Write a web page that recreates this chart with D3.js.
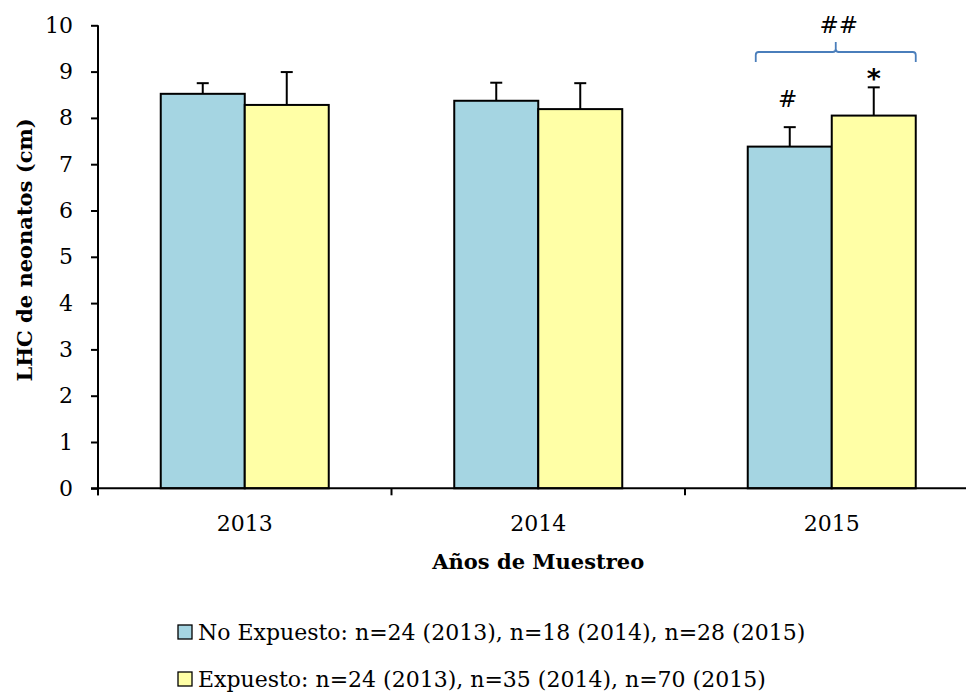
<!DOCTYPE html>
<html>
<head>
<meta charset="utf-8">
<script src="https://cdn.jsdelivr.net/npm/d3@7"></script>
<style>
  html, body { margin: 0; padding: 0; background: #fff; overflow: hidden; }
  svg { display: block; font-family: "DejaVu Serif", serif; }
</style>
</head>
<body>
<svg id="chart" width="966" height="692"></svg>
<script>
// Sampling years
const years = ["2013", "2014", "2015"];
// Mean snout-vent length (cm) and standard deviation per group
const noExpuesto = [8.52, 8.37, 7.38];
const noExpuestoErr = [0.23, 0.39, 0.42];
const expuesto = [8.28, 8.19, 8.05];
const expuestoErr = [0.71, 0.56, 0.61];
const groups = ["No Expuesto", "Expuesto"];
const legendLabels = [
  "No Expuesto: n=24 (2013), n=18 (2014), n=28 (2015)",
  "Expuesto: n=24 (2013), n=35 (2014), n=70 (2015)"
];
const yTicks = [0, 1, 2, 3, 4, 5, 6, 7, 8, 9, 10];

const colors = { "No Expuesto": "#a5d5e2", "Expuesto": "#ffffa6" };

const svg = d3.select("#chart");

// Category axis runs past the right edge of the canvas
const x = d3.scaleBand().domain(years).range([98, 978.5]).padding(0);
const xs = d3.scaleBand().domain(groups).range([0, x.bandwidth()])
  .paddingInner(0).paddingOuter(0.747);
const y = d3.scaleLinear().domain([0, 10]).range([488.3, 25.3]);

const rows = years.map((yr, i) => ({
  year: yr,
  bars: [
    { g: "No Expuesto", v: noExpuesto[i], e: noExpuestoErr[i] },
    { g: "Expuesto", v: expuesto[i], e: expuestoErr[i] }
  ]
}));

// Bars
const grp = svg.append("g").selectAll("g").data(rows).join("g")
  .attr("transform", d => `translate(${x(d.year)},0)`);

grp.selectAll("rect").data(d => d.bars).join("rect")
  .attr("x", d => xs(d.g))
  .attr("y", d => y(d.v))
  .attr("width", xs.bandwidth())
  .attr("height", d => y(0) - y(d.v))
  .attr("fill", d => colors[d.g])
  .attr("stroke", "#000")
  .attr("stroke-width", 2);

// Upper error bars
const eb = grp.selectAll("g.err").data(d => d.bars).join("g").attr("class", "err");
eb.append("line")
  .attr("x1", d => xs(d.g) + xs.bandwidth() / 2)
  .attr("x2", d => xs(d.g) + xs.bandwidth() / 2)
  .attr("y1", d => y(d.v))
  .attr("y2", d => y(d.v + d.e))
  .attr("stroke", "#000").attr("stroke-width", 2);
eb.append("line")
  .attr("x1", d => xs(d.g) + xs.bandwidth() / 2 - 6)
  .attr("x2", d => xs(d.g) + xs.bandwidth() / 2 + 6)
  .attr("y1", d => y(d.v + d.e))
  .attr("y2", d => y(d.v + d.e))
  .attr("stroke", "#000").attr("stroke-width", 2);

// Y axis
const yAxis = svg.append("g")
  .attr("transform", `translate(${x.range()[0]},0)`)
  .call(d3.axisLeft(y).tickValues(yTicks).tickSize(7).tickSizeOuter(0).tickPadding(18));
yAxis.select(".domain").attr("stroke", "#000").attr("stroke-width", 2)
  .attr("d", `M0,${y(10)}V${y(0) + 7}`);
yAxis.selectAll(".tick line").attr("stroke", "#000").attr("stroke-width", 2);
yAxis.selectAll(".tick text").attr("font-family", "DejaVu Serif")
  .attr("font-size", 22).attr("fill", "#000");

// X axis line, boundary ticks and centered labels
const xAxis = svg.append("g");
xAxis.append("line")
  .attr("x1", x.range()[0] - 7).attr("x2", x.range()[1])
  .attr("y1", y(0)).attr("y2", y(0))
  .attr("stroke", "#000").attr("stroke-width", 2);
const bounds = years.map(d => x(d)).concat([x.range()[1]]);
xAxis.selectAll("line.tk").data(bounds).join("line").attr("class", "tk")
  .attr("x1", d => d).attr("x2", d => d)
  .attr("y1", y(0)).attr("y2", y(0) + 7)
  .attr("stroke", "#000").attr("stroke-width", 2);
xAxis.selectAll("text").data(years).join("text")
  .attr("x", d => x(d) + x.bandwidth() / 2)
  .attr("y", 531)
  .attr("text-anchor", "middle")
  .attr("font-size", 22)
  .text(d => d);

// Axis titles
svg.append("text")
  .attr("x", x("2014") + x.bandwidth() / 2).attr("y", 569)
  .attr("text-anchor", "middle").attr("font-weight", "bold").attr("font-size", 21)
  .text("Años de Muestreo");
svg.append("text")
  .attr("transform", "translate(32,250) rotate(-90)")
  .attr("text-anchor", "middle").attr("font-weight", "bold").attr("font-size", 21)
  .text("LHC de neonatos (cm)");

// Significance marks for 2015
const i15 = years.indexOf("2015");
const x15 = x("2015");
const cBlue = x15 + xs("No Expuesto") + xs.bandwidth() / 2;
const cYel = x15 + xs("Expuesto") + xs.bandwidth() / 2;
svg.append("text")
  .attr("x", cBlue - 2).attr("y", y(noExpuesto[i15] + noExpuestoErr[i15]) - 20)
  .attr("text-anchor", "middle").attr("font-family", "DejaVu Sans").attr("font-size", 23)
  .text("#");
svg.append("text")
  .attr("x", cYel).attr("y", y(expuesto[i15] + expuestoErr[i15]) + 1)
  .attr("text-anchor", "middle").attr("font-family", "DejaVu Sans").attr("font-weight", "bold")
  .attr("font-size", 27)
  .text("*");

// Curly bracket spanning both 2015 groups
const bl = x15 + xs("No Expuesto") + 8;
const br = x15 + xs("Expuesto") + xs.bandwidth();
const bm = (bl + br) / 2;
const by = 52;
const bracket = d3.path();
bracket.moveTo(bl, by + 10);
bracket.lineTo(bl, by + 3);
bracket.quadraticCurveTo(bl, by, bl + 3, by);
bracket.lineTo(bm - 3, by);
bracket.quadraticCurveTo(bm, by, bm, by - 3);
bracket.lineTo(bm, by - 10);
bracket.moveTo(bm, by - 3);
bracket.quadraticCurveTo(bm, by, bm + 3, by);
bracket.lineTo(br - 3, by);
bracket.quadraticCurveTo(br, by, br, by + 3);
bracket.lineTo(br, by + 10);
svg.append("path").attr("d", bracket.toString())
  .attr("fill", "none").attr("stroke", "#4a7ebb").attr("stroke-width", 1.8);
svg.append("text")
  .attr("x", bm + 3).attr("y", 33)
  .attr("text-anchor", "middle").attr("font-family", "DejaVu Sans").attr("font-size", 23)
  .text("##");

// Legend
const leg = svg.append("g").selectAll("g").data(groups).join("g")
  .attr("transform", (d, i) => `translate(178,${625 + i * 47})`);
leg.append("rect")
  .attr("width", 14).attr("height", 14)
  .attr("fill", d => colors[d]).attr("stroke", "#000").attr("stroke-width", 1.3);
leg.append("text")
  .attr("x", 20).attr("y", 15)
  .attr("font-size", 22)
  .text((d, i) => legendLabels[i]);
</script>
</body>
</html>
